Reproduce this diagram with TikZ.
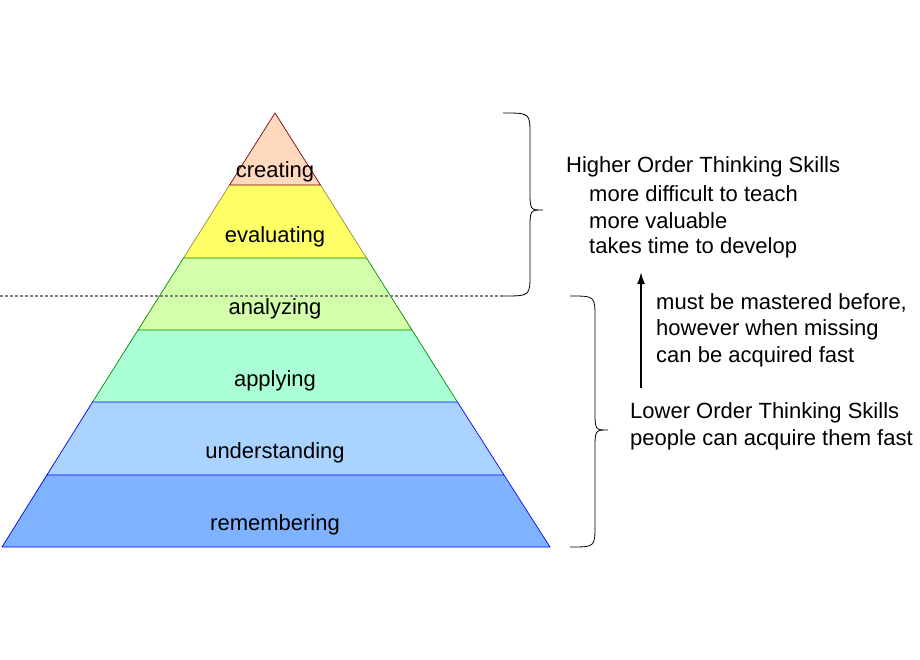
\documentclass[tikz,border=0pt]{standalone}
\usepackage{fontspec}
\setmainfont{Liberation Sans}
\usetikzlibrary{arrows.meta}
\begin{document}
\begin{tikzpicture}[x=1pt,y=-1pt,
  lbl/.style={font=\fontsize{22}{26}\selectfont, inner sep=0pt},
  rt/.style={font=\fontsize{22}{26}\selectfont, inner sep=0pt, anchor=west},
  brace/.style={draw=black, line width=0.8pt}]
\useasboundingbox (0,0) rectangle (920,660);
% layers
\fill[fill={rgb,255:red,128;green,179;blue,255}] (2,547) -- (550,547) -- ({275+0.6313*362},475) -- ({275-0.6313*362},475) -- cycle;
\fill[fill={rgb,255:red,170;green,212;blue,255}] ({275-0.6313*362},475) -- ({275+0.6313*362},475) -- ({275+0.6313*289},402) -- ({275-0.6313*289},402) -- cycle;
\fill[fill={rgb,255:red,170;green,255;blue,213}] ({275-0.6313*289},402) -- ({275+0.6313*289},402) -- ({275+0.6313*217},330) -- ({275-0.6313*217},330) -- cycle;
\fill[fill={rgb,255:red,212;green,255;blue,170}] ({275-0.6313*217},330) -- ({275+0.6313*217},330) -- ({275+0.6313*145},258) -- ({275-0.6313*145},258) -- cycle;
\fill[fill={rgb,255:red,255;green,255;blue,102}] ({275-0.6313*145},258) -- ({275+0.6313*145},258) -- ({275+0.6313*72},185) -- ({275-0.6313*72},185) -- cycle;
\fill[fill={rgb,255:red,255;green,217;blue,190}] ({275-0.6313*72},185) -- ({275+0.6313*72},185) -- (275,113) -- cycle;
% outlines
\draw[blue, line width=0.7pt] (2,547) -- (550,547) -- ({275+0.6313*289},402) ({2},547) -- ({275-0.6313*289},402) ({275-0.6313*362},475) -- ({275+0.6313*362},475) ({275-0.6313*289},402) -- ({275+0.6313*289},402);
\draw[green!55!black, line width=0.7pt] ({275-0.6313*289},402) -- ({275-0.6313*145},258) ({275+0.6313*289},402) -- ({275+0.6313*145},258) ({275-0.6313*217},330) -- ({275+0.6313*217},330) ({275-0.6313*145},258) -- ({275+0.6313*145},258);
\draw[yellow!50!black, line width=0.7pt] ({275-0.6313*145},258) -- ({275-0.6313*72},185) ({275+0.6313*145},258) -- ({275+0.6313*72},185);
\draw[red!50!black, line width=0.7pt] ({275-0.6313*72},185) -- (275,113) -- ({275+0.6313*72},185) -- cycle;
% dashed line
\draw[black!50, dash pattern=on 3pt off 2pt, line width=1.5pt] (0,296) -- (505,296);
% labels
\node[lbl] (cr) at (275,172) {creating};
\node[lbl] (ev) at (275,237) {evaluating};
\node[lbl] (an) at (275,309) {analyzing};
\node[lbl] (ap) at (275,381) {applying};
\node[lbl] (un) at (275,453) {understanding};
\node[lbl] (re) at (275,525) {remembering};
% braces
\draw[brace] (503,113) .. controls (530,113) .. (530,135) -- (530,190) .. controls (530,210) .. (543,210) .. controls (530,210) .. (530,230) -- (530,274) .. controls (530,296) .. (503,296);
\draw[brace] (570,296) .. controls (595,296) .. (595,318) -- (595,410) .. controls (595,430) .. (608,430) .. controls (595,430) .. (595,450) -- (595,525) .. controls (595,547) .. (570,547);
% right texts
\node[rt] (h1) at (566,167) {Higher Order Thinking Skills};
\node[rt] (h2) at (589,194) {more difficult to teach};
\node[rt] (h3) at (589,221) {more valuable};
\node[rt] (h4) at (589,248) {takes time to develop};
\node[rt] (m1) at (656,303) {must be mastered before,};
\node[rt] (m2) at (656,330) {however when missing};
\node[rt] (m3) at (656,357) {can be acquired fast};
\node[rt] (l1) at (630,413) {Lower Order Thinking Skills};
\node[rt] (l2) at (630,440) {people can acquire them fast};
\coordinate (a0) at (641,388);
\coordinate (a1) at (641,272);
\draw[-{Latex[length=12pt,width=8pt]}, line width=2pt] (a0) -- (a1);
\end{tikzpicture}
\end{document}
